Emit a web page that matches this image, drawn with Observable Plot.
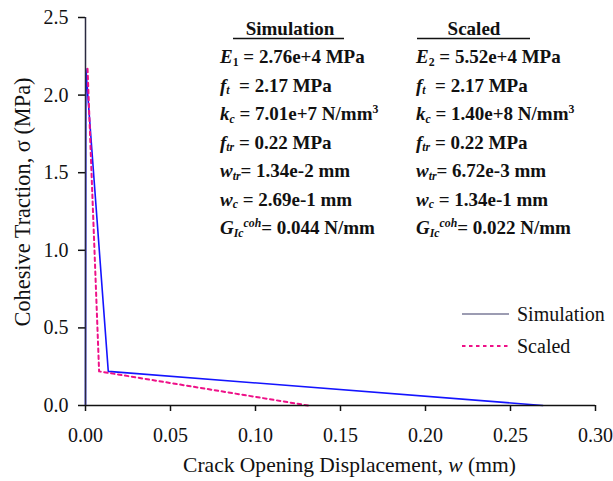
<!DOCTYPE html>
<html>
<head>
<meta charset="utf-8">
<script src="https://cdn.jsdelivr.net/npm/d3@7"></script>
<script src="https://cdn.jsdelivr.net/npm/@observablehq/plot@0.6"></script>
<style>
  html, body { margin: 0; padding: 0; background: #fff; }
  #chart { width: 613px; height: 481px; }
</style>
</head>
<body>
<div id="chart"></div>
<script>
// ---- data ----
const simW = [0, 0.0002, 0.0134, 0.269];
const simS = [0, 2.17, 0.22, 0];
const scaledW = [0.0012, 0.008, 0.131];
const scaledS = [2.17, 0.22, 0];
const xTicks = [0, 0.05, 0.10, 0.15, 0.20, 0.25, 0.30];
const yTicks = [0, 0.5, 1.0, 1.5, 2.0, 2.5];
const seriesNames = ["Simulation", "Scaled"];

const simData = simW.map((w, i) => ({w, s: simS[i]}));
const scaledData = scaledW.map((w, i) => ({w, s: scaledS[i]}));

const FONT = "Liberation Serif, Times New Roman, serif";
const BLUE = "#1414ff";
const PINK = "#ee1188";

const chart = Plot.plot({
  width: 613,
  height: 481,
  marginLeft: 85,
  marginRight: 18,
  marginTop: 17,
  marginBottom: 76,
  style: {fontFamily: FONT, fontSize: "20px", background: "#fff", color: "#111"},
  x: {domain: [0, 0.3]},
  y: {domain: [0, 2.5]},
  marks: [
    Plot.line(simData, {x: "w", y: "s", stroke: BLUE, strokeWidth: 1.6}),
    Plot.line(scaledData, {x: "w", y: "s", stroke: PINK, strokeWidth: 2, strokeDasharray: "3.5,3.5"}),
    Plot.axisX({ticks: xTicks, tickFormat: d => d.toFixed(2), tickSize: 6, tickPadding: 16, label: null, fontSize: 20, stroke: "#111", strokeWidth: 1.5}),
    Plot.axisY({ticks: yTicks, tickFormat: d => d.toFixed(1), tickSize: 7, tickPadding: 10, label: null, fontSize: 20, stroke: "#111", strokeWidth: 1.5}),
    Plot.ruleY([0], {stroke: "#111", strokeWidth: 1.5}),
    Plot.ruleX([0], {stroke: "#2a2a40", strokeWidth: 1.5})
  ]
});
document.getElementById("chart").appendChild(chart);

const svg = d3.select(chart);

// ---- rich text helper ----
function rich(x, y, segs, size, weight, anchor) {
  const t = svg.append("text")
    .attr("x", x).attr("y", y)
    .attr("text-anchor", anchor || "start")
    .attr("font-family", FONT)
    .attr("font-size", size)
    .attr("font-weight", weight)
    .attr("fill", "#111")
    .attr("xml:space", "preserve")
    .style("white-space", "pre");
  let off = 0;
  segs.forEach(([txt, kind]) => {
    const sp = t.append("tspan").text(txt);
    let target = 0, fs = size;
    if (kind === "sub" || kind === "subi") { target = size * 0.14; fs = size * 0.62; }
    if (kind === "sup" || kind === "supi") { target = -size * 0.38; fs = size * 0.62; }
    sp.attr("font-size", fs).attr("dy", target - off);
    off = target;
    if (kind === "i" || kind === "subi" || kind === "supi") sp.attr("font-style", "italic");
  });
  return t;
}
// scale font size so that the text spans the target length
function fitLength(sel, baseSize, target) {
  const len = sel.node().getComputedTextLength();
  if (len > 0) {
    const k = target / len;
    sel.attr("font-size", baseSize * k);
    sel.selectAll("tspan").each(function() {
      const fs = +this.getAttribute("font-size");
      if (fs) this.setAttribute("font-size", fs * k);
    });
  }
}

// ---- annotation table ----
const simRows = [
  [["E", "i"], ["1", "sub"], [" = 2.76e+4 MPa", "n"]],
  [["f", "i"], ["t", "subi"], ["  = 2.17 MPa", "n"]],
  [["k", "i"], ["c", "subi"], [" = 7.01e+7 N/mm", "n"], ["3", "sup"]],
  [["f", "i"], ["tr", "subi"], [" = 0.22 MPa", "n"]],
  [["w", "i"], ["tr", "subi"], ["= 1.34e-2 mm", "n"]],
  [["w", "i"], ["c", "subi"], [" = 2.69e-1 mm", "n"]],
  [["G", "i"], ["Ic", "subi"], ["coh", "supi"], ["= 0.044 N/mm", "n"]]
];
const scaledRows = [
  [["E", "i"], ["2", "sub"], [" = 5.52e+4 MPa", "n"]],
  [["f", "i"], ["t", "subi"], ["  = 2.17 MPa", "n"]],
  [["k", "i"], ["c", "subi"], [" = 1.40e+8 N/mm", "n"], ["3", "sup"]],
  [["f", "i"], ["tr", "subi"], [" = 0.22 MPa", "n"]],
  [["w", "i"], ["tr", "subi"], ["= 6.72e-3 mm", "n"]],
  [["w", "i"], ["c", "subi"], [" = 1.34e-1 mm", "n"]],
  [["G", "i"], ["Ic", "subi"], ["coh", "supi"], ["= 0.022 N/mm", "n"]]
];
const rowY0 = 63, rowDy = 28.5;
simRows.forEach((r, i) => rich(220, rowY0 + i * rowDy, r, 19, "bold"));
scaledRows.forEach((r, i) => rich(416, rowY0 + i * rowDy, r, 19, "bold"));

// headers
rich(290, 35, [[seriesNames[0], "n"]], 19, "bold", "middle");
svg.append("line").attr("x1", 233).attr("x2", 344).attr("y1", 38.5).attr("y2", 38.5).attr("stroke", "#111").attr("stroke-width", 1.5);
rich(474, 35, [[seriesNames[1], "n"]], 19, "bold", "middle");
svg.append("line").attr("x1", 417).attr("x2", 530).attr("y1", 38.5).attr("y2", 38.5).attr("stroke", "#111").attr("stroke-width", 1.5);

// axis titles
const xt = rich(349.5, 472, [["Crack Opening Displacement, ", "n"], ["w", "i"], [" (mm)", "n"]], 20, "normal", "middle");
fitLength(xt, 20, 333);
const yt = svg.append("text").attr("transform", "translate(30,202) rotate(-90)")
  .attr("text-anchor", "middle").attr("font-family", FONT).attr("font-size", 20).attr("fill", "#111")
  .text("Cohesive Traction, σ (MPa)");
fitLength(yt, 20, 249);

// legend
svg.append("line").attr("x1", 462).attr("x2", 509).attr("y1", 314).attr("y2", 314)
  .attr("stroke", "#3a3a66").attr("stroke-width", 1.2);
rich(517, 321, [[seriesNames[0], "n"]], 20, "normal");
svg.append("line").attr("x1", 462).attr("x2", 509).attr("y1", 346).attr("y2", 346)
  .attr("stroke", PINK).attr("stroke-width", 2).attr("stroke-dasharray", "3.5,3.5");
rich(517, 353, [[seriesNames[1], "n"]], 20, "normal");

// serif font on the axis tick labels
svg.selectAll("g[aria-label$='tick label'] text").attr("font-family", FONT).attr("fill", "#111");
</script>
</body>
</html>
